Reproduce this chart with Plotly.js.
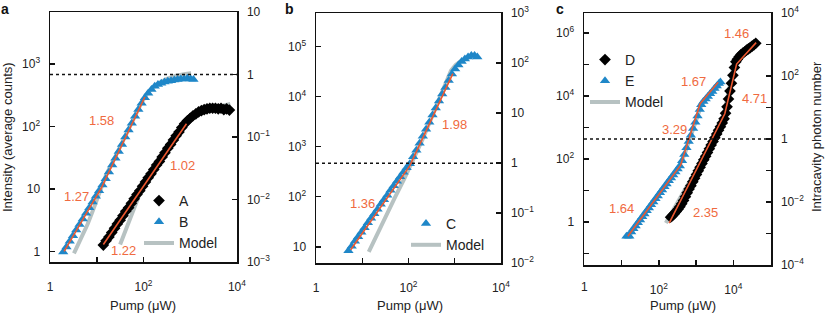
<!DOCTYPE html>
<html>
<head>
<meta charset="utf-8">
<script src="https://cdn.plot.ly/plotly-3.0.1.min.js"></script>
<style>
  html, body { margin: 0; padding: 0; background: #fff; }
  #chart { width: 833px; height: 316px; }
</style>
</head>
<body>
<div id="chart"></div>
<script>
// ---------- Panel a ----------
const pumpA = [13.8, 15.8, 18.2, 20.9, 24.0, 27.5, 31.6, 36.3, 41.7, 47.9, 55.0, 63.1, 72.4, 83.2, 95.5, 110, 126, 145, 166, 191, 219, 251, 288, 331, 380, 437, 501, 575, 661, 759, 871, 1000, 1148, 1318, 1514, 1738, 1995, 2291, 2630, 3020, 3467, 3981, 4571, 5248, 6026, 6918];
const countsA = [1.26, 1.48, 1.70, 2.00, 2.34, 2.75, 3.16, 3.72, 4.37, 5.01, 5.89, 6.92, 8.13, 9.33, 11.0, 12.9, 15.1, 17.4, 20.4, 24.0, 27.5, 32.4, 38.0, 44.7, 51.3, 60.3, 70.8, 81.3, 95.5, 110, 123, 135, 148, 158, 170, 178, 186, 191, 195, 195, 195, 191, 195, 186, 191, 182];
const pumpB = [1.91, 2.24, 2.63, 3.09, 3.63, 4.27, 5.01, 5.89, 6.92, 8.13, 9.55, 11.2, 13.2, 15.5, 18.2, 21.4, 25.1, 29.5, 34.7, 40.7, 47.9, 56.2, 66.1, 77.6, 91.2, 107, 126, 148, 174, 204, 240, 282, 331, 389, 457, 537, 631, 741, 871, 1023, 1175];
const countsB = [0.98, 1.17, 1.45, 1.78, 2.19, 2.69, 3.31, 4.07, 5.01, 6.17, 7.59, 9.33, 11.5, 14.5, 18.6, 24.0, 30.9, 39.8, 51.3, 67.6, 87.1, 112, 145, 186, 234, 288, 339, 389, 437, 468, 490, 513, 525, 537, 550, 562, 575, 575, 589, 575, 562];
const modelPumpA = [31.6, 39.8, 50.1, 60.3, 72.4, 87.1, 105, 158, 251, 398, 631, 891, 1259, 1995, 3162, 5012, 7244];
const modelCountsA = [1.29, 2.04, 3.24, 4.68, 6.76, 9.12, 12.0, 19.1, 32.4, 53.7, 87.1, 117, 148, 178, 200, 214, 229];
const modelPumpB = [3.24, 3.98, 5.01, 6.31, 7.94, 10.0, 12.6, 15.8, 25.1, 39.8, 63.1, 89.1, 126, 200, 316, 501, 794, 1047];
const modelCountsB = [0.93, 1.26, 1.82, 2.69, 4.17, 6.76, 11.0, 16.6, 33.1, 67.6, 138, 234, 355, 479, 575, 646, 692, 708];
const fitPumpA = [13.8, 832];
const fitCountsA = [1.29, 110];
const fitPumpB = [2.0, 12.6, 107];
const fitCountsB = [1.0, 10.5, 295];

// ---------- Panel b ----------
const pumpC = [5.01, 5.89, 6.92, 8.13, 9.55, 11.2, 13.2, 15.5, 18.2, 21.4, 25.1, 29.5, 34.7, 40.7, 47.9, 56.2, 66.1, 77.6, 91.2, 107, 126, 148, 174, 204, 240, 282, 331, 389, 457, 537, 631, 741, 871, 1023, 1202, 1413, 1660, 1950, 2291, 2692, 3090];
const countsC = [8.32, 10.2, 12.9, 15.8, 19.5, 24.0, 30.2, 37.2, 45.7, 56.2, 70.8, 87.1, 107, 135, 166, 204, 251, 309, 380, 457, 631, 851, 1175, 1622, 2239, 3090, 4266, 5888, 8128, 11220, 15136, 20893, 28184, 35481, 42658, 50119, 56234, 61660, 66069, 66069, 61660];
const modelPumpC = [13.8, 20.0, 31.6, 50.1, 79.4, 126, 200, 316, 501, 661, 832, 1047, 1413, 1995];
const modelCountsC = [7.94, 16.6, 39.8, 93.3, 219, 525, 1380, 3802, 10715, 21380, 33113, 42658, 52481, 60256];
const fitPumpC = [5.62, 107, 912];
const fitCountsC = [8.71, 417, 28840];

// ---------- Panel c ----------
const pumpD = [207, 232, 260, 291, 327, 366, 410, 459, 515, 577, 647, 724, 813, 910, 1021, 1143, 1279, 1435, 1607, 1803, 2018, 2265, 2535, 2844, 3184, 3573, 4000, 4487, 5023, 5636, 6166, 6761, 7396, 8110, 8872, 9727, 10666, 11668, 12794, 14322, 16069, 17989, 20184, 22594, 25351, 28379, 31842, 35645, 39902];
const countsD = [1.41, 1.58, 1.82, 2.14, 2.51, 3.02, 3.72, 4.79, 6.31, 8.32, 11.0, 14.1, 18.6, 24.0, 31.6, 41.7, 53.7, 70.8, 93.3, 120, 158, 209, 275, 355, 468, 617, 813, 1047, 1380, 1862, 2818, 4467, 7943, 14125, 25119, 44668, 79433, 120226, 144544, 173780, 204174, 229087, 251189, 281838, 309030, 338844, 380189, 416869, 467735];
const pumpE = [13.5, 14.7, 16.1, 18.1, 20.7, 23.8, 27.2, 31.3, 35.8, 41.0, 47.1, 54.0, 61.9, 71.0, 81.3, 93.3, 107, 122, 141, 161, 185, 212, 243, 279, 319, 366, 420, 481, 551, 632, 724, 830, 953, 1091, 1250, 1371, 1570, 1803, 2065, 2371, 2716, 3112, 3573, 4093, 4487];
const countsE = [0.347, 0.355, 0.347, 0.479, 0.603, 0.741, 0.933, 1.15, 1.45, 1.78, 2.24, 2.75, 3.47, 4.27, 5.37, 6.61, 8.32, 10.2, 12.9, 15.8, 20.0, 24.5, 30.9, 38.0, 47.9, 58.9, 87.1, 138, 224, 355, 562, 912, 1445, 2291, 3715, 5248, 6607, 7943, 9550, 11749, 13804, 16982, 20417, 24547, 27542];
const modelPumpD = [154, 222, 350, 551, 869, 1371, 2163, 3412, 4487, 5636, 6761, 8110, 9506, 10666];
const modelCountsD = [0.912, 1.91, 4.57, 12.0, 33.1, 95.5, 263, 661, 1259, 2818, 7079, 22387, 63096, 112202];
const modelPumpE = [15.1, 22.7, 35.8, 56.5, 89.1, 141, 222, 350, 492, 692, 975, 1371, 2163, 3412, 4909];
const modelCountsE = [0.331, 0.676, 1.41, 2.95, 6.17, 12.9, 26.9, 57.5, 141, 479, 1585, 5012, 10000, 17783, 26303];
const fitPumpD = [189, 5888, 12218, 40832];
const fitCountsD = [0.912, 2692, 102329, 489779];
const fitPumpE = [14.7, 383, 1279, 3908];
const fitCountsE = [0.347, 63.1, 5623, 26915];

// ---------- Labels ----------
const xTitle = 'Pump (μW)';
const leftTitle = 'Intensity (average counts)';
const rightTitle = 'Intracavity photon number';
const photonThreshold = 1;

const BLUE = '#1f87c8';
const BLACK = '#000000';
const GRAY = '#b7c2c2';
const FIT = '#ec5830';
const LABEL = '#f06a40';
const FONT = 'Liberation Sans, Arial, Helvetica, sans-serif';

function sup(e) { return '10<sup>' + String(e).replace('-', '\u2212') + '</sup>'; }
function decadeAxis(lo, hi, labelled) {
  const vals = [], text = [], minorVals = [];
  for (let e = lo; e <= hi; e++) {
    minorVals.push(Math.pow(10, e));
    if (labelled(e)) {
      vals.push(Math.pow(10, e));
      text.push(e === 0 ? '1' : (e === 1 ? '10' : sup(e)));
    }
  }
  return { tickvals: vals, ticktext: text,
    minor: { tickmode: 'array', tickvals: minorVals, ticks: 'inside', ticklen: 5, tickwidth: 1.5, tickcolor: '#111', showgrid: false } };
}

const baseAxis = {
  type: 'log', showline: true, linewidth: 1.5, linecolor: '#111',
  ticks: 'inside', ticklen: 5, tickwidth: 1.5, tickcolor: '#111',
  showgrid: false, zeroline: false, tickmode: 'array', ticklabeloverflow: 'allow',
  tickfont: { family: FONT, size: 12, color: '#222' }
};
function ax(extra) { return Object.assign({}, baseAxis, extra); }

const traces = [];
function model(x, y, xa, ya, legend, show) {
  traces.push({ x, y, xaxis: xa, yaxis: ya, type: 'scatter', mode: 'lines', name: 'Model',
    line: { color: GRAY, width: 4 }, legend, showlegend: show, legendrank: 3, hoverinfo: 'skip' });
}
function data(x, y, xa, ya, name, sym, color, legend, rank) {
  traces.push({ x, y, xaxis: xa, yaxis: ya, type: 'scatter', mode: 'markers', name,
    marker: { symbol: sym, size: 9, color, line: { width: 0 } }, legend, legendrank: rank });
}
function fit(x, y, xa, ya) {
  traces.push({ x, y, xaxis: xa, yaxis: ya, type: 'scatter', mode: 'lines',
    line: { color: FIT, width: 1.6 }, showlegend: false, hoverinfo: 'skip' });
}

// panel a
model(modelPumpA, modelCountsA, 'x', 'y', 'legend', true);
model(modelPumpB, modelCountsB, 'x', 'y', 'legend', false);
data(pumpA, countsA, 'x', 'y', 'A', 'diamond', BLACK, 'legend', 1);
data(pumpB, countsB, 'x', 'y', 'B', 'triangle-up', BLUE, 'legend', 2);
fit(fitPumpA, fitCountsA, 'x', 'y');
fit(fitPumpB, fitCountsB, 'x', 'y');
// panel b
model(modelPumpC, modelCountsC, 'x2', 'y2', 'legend2', true);
data(pumpC, countsC, 'x2', 'y2', 'C', 'triangle-up', BLUE, 'legend2', 1);
fit(fitPumpC, fitCountsC, 'x2', 'y2');
// panel c
model(modelPumpD, modelCountsD, 'x3', 'y3', 'legend3', true);
model(modelPumpE, modelCountsE, 'x3', 'y3', 'legend3', false);
data(pumpD, countsD, 'x3', 'y3', 'D', 'diamond', BLACK, 'legend3', 1);
data(pumpE, countsE, 'x3', 'y3', 'E', 'triangle-up', BLUE, 'legend3', 2);
fit(fitPumpD, fitCountsD, 'x3', 'y3');
fit(fitPumpE, fitCountsE, 'x3', 'y3');

const W = 833, H = 316;
const px = v => v / W, py = v => 1 - v / H;

const xStand = 13, yStand = 6;
const legendFont = { family: FONT, size: 14, color: '#222' };

// panel c x axis: labels at 10^2 and 10^4 as ticks; the corner "1" is set as an annotation below
const cXTicks = decadeAxis(0, 5, e => e === 2 || e === 4);

const layout = {
  width: W, height: H, margin: { l: 0, r: 0, t: 0, b: 0 },
  paper_bgcolor: '#fff', plot_bgcolor: '#fff', hovermode: false,
  font: { family: FONT, size: 12, color: '#222' },
  xaxis: ax(Object.assign({ domain: [px(50), px(237)], range: [-0.002, 4.002], anchor: 'y', mirror: true, ticklabelstandoff: xStand },
    decadeAxis(0, 4, e => e % 2 === 0))),
  yaxis: ax(Object.assign({ domain: [py(262), py(12)], range: [-0.17, 3.83], anchor: 'x', ticklabelstandoff: yStand },
    decadeAxis(0, 3, e => true))),
  yaxis4: ax(Object.assign({ overlaying: 'y', side: 'right', anchor: 'x', range: [-3.002, 1.002], ticklabelstandoff: yStand },
    decadeAxis(-3, 1, e => true))),
  xaxis2: ax(Object.assign({ domain: [px(316), px(501)], range: [-0.002, 4.002], anchor: 'y2', mirror: true, ticklabelstandoff: xStand },
    decadeAxis(0, 4, e => e % 2 === 0))),
  yaxis2: ax(Object.assign({ domain: [py(263.3), py(13)], range: [0.67, 5.67], anchor: 'x2', ticklabelstandoff: yStand },
    decadeAxis(1, 5, e => true))),
  yaxis5: ax(Object.assign({ overlaying: 'y2', side: 'right', anchor: 'x2', range: [-2.002, 3.002], ticklabelstandoff: yStand },
    decadeAxis(-2, 3, e => true))),
  xaxis3: ax(Object.assign({ domain: [px(584), px(771)], range: [-0.01, 5.01], anchor: 'y3', mirror: true, ticklabelstandoff: xStand },
    cXTicks)),
  yaxis3: ax(Object.assign({ domain: [py(265), py(13)], range: [-1.37, 6.63], anchor: 'x3', ticklabelstandoff: yStand },
    decadeAxis(-1, 6, e => e % 2 === 0))),
  yaxis6: ax(Object.assign({ overlaying: 'y3', side: 'right', anchor: 'x3', range: [-4.002, 4.002], ticklabelstandoff: yStand },
    decadeAxis(-4, 4, e => e % 2 === 0))),
  legend: { x: px(139), y: py(185), xanchor: 'left', yanchor: 'top', bgcolor: 'rgba(0,0,0,0)', font: legendFont, tracegroupgap: 0 },
  legend2: { x: px(406), y: py(208), xanchor: 'left', yanchor: 'top', bgcolor: 'rgba(0,0,0,0)', font: legendFont, tracegroupgap: 0 },
  legend3: { x: px(585), y: py(44), xanchor: 'left', yanchor: 'top', bgcolor: 'rgba(0,0,0,0)', font: legendFont, tracegroupgap: 0 },
  shapes: ['y4', 'y5', 'y6'].map((r, i) => ({ type: 'line', xref: ['x', 'x2', 'x3'][i] + ' domain', x0: 0, x1: 1,
    yref: r, y0: photonThreshold, y1: photonThreshold, line: { color: '#111', width: 1.5, dash: 'dot' } })),
  annotations: []
};

const slopeLabels = [
  { t: '1.58', x: 1.11, y: 2.10, xr: 'x', yr: 'y' },
  { t: '1.27', x: 0.57, y: 0.875, xr: 'x', yr: 'y' },
  { t: '1.02', x: 2.84, y: 1.37, xr: 'x', yr: 'y' },
  { t: '1.22', x: 1.58, y: 0.01, xr: 'x', yr: 'y' },
  { t: '1.36', x: 1.01, y: 1.87, xr: 'x2', yr: 'y2' },
  { t: '1.98', x: 2.99, y: 3.44, xr: 'x2', yr: 'y2' },
  { t: '1.46', x: 4.08, y: 5.99, xr: 'x3', yr: 'y3' },
  { t: '1.67', x: 2.94, y: 4.45, xr: 'x3', yr: 'y3' },
  { t: '4.71', x: 4.57, y: 3.92, xr: 'x3', yr: 'y3' },
  { t: '3.29', x: 2.41, y: 2.94, xr: 'x3', yr: 'y3' },
  { t: '1.64', x: 1.00, y: 0.43, xr: 'x3', yr: 'y3' },
  { t: '2.35', x: 3.245, y: 0.29, xr: 'x3', yr: 'y3' }
];
slopeLabels.forEach(s => layout.annotations.push({ text: s.t, x: s.x, y: s.y, xref: s.xr, yref: s.yr,
  xanchor: 'center', yanchor: 'middle', showarrow: false, font: { family: FONT, size: 13, color: LABEL } }));

// panel c: the x-axis "1" label at the lower-left corner
layout.annotations.push({ text: '1', x: 0, y: py(287), xref: 'x3', yref: 'paper', xanchor: 'center', yanchor: 'middle',
  showarrow: false, font: { family: FONT, size: 12, color: '#222' } });

[143, 410, 683].forEach(cx => layout.annotations.push({ text: xTitle, x: px(cx), y: py(305), xref: 'paper', yref: 'paper',
  xanchor: 'center', yanchor: 'middle', showarrow: false, font: { family: FONT, size: 13, color: '#222' } }));
layout.annotations.push({ text: leftTitle, x: px(7), y: py(137), xref: 'paper', yref: 'paper', textangle: -90,
  xanchor: 'center', yanchor: 'middle', showarrow: false, font: { family: FONT, size: 13, color: '#222' } });
layout.annotations.push({ text: rightTitle, x: px(816), y: py(137), xref: 'paper', yref: 'paper', textangle: -90,
  xanchor: 'center', yanchor: 'middle', showarrow: false, font: { family: FONT, size: 13, color: '#222' } });
[[0, 'a'], [284, 'b'], [555, 'c']].forEach(([lx, t]) => layout.annotations.push({ text: '<b>' + t + '</b>', x: px(lx), y: 1,
  xref: 'paper', yref: 'paper', xanchor: 'left', yanchor: 'top', showarrow: false, borderpad: 0,
  font: { family: FONT, size: 14, color: '#111' } }));

Plotly.newPlot('chart', traces, layout, { displayModeBar: false, staticPlot: true });
</script>
</body>
</html>
